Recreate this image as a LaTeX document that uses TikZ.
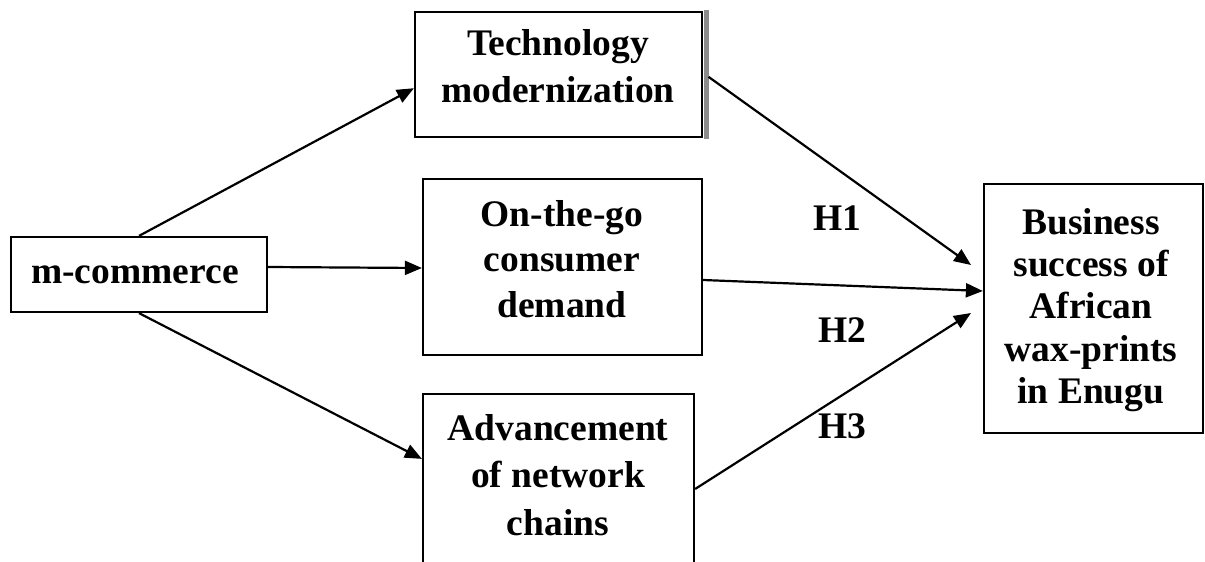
\documentclass[tikz,border=0pt]{standalone}
\usepackage{fontspec}
\setmainfont{Liberation Serif}
\usetikzlibrary{arrows.meta,calc}
\definecolor{shadowgray}{RGB}{140,140,140}
\tikzset{
  boxnode/.style={draw=black, line width=2.2pt, rectangle, inner sep=0pt},
  txt/.style={font=\bfseries\fontsize{37.5}{46.5}\selectfont, align=center, inner sep=0pt, anchor=north},
  conn/.style={line width=2.2pt, -{Triangle[length=17pt,width=14pt]}},
  hlabel/.style={font=\bfseries\fontsize{37.5}{44}\selectfont, inner sep=0pt}
}
\begin{document}
\begin{tikzpicture}[x=1pt,y=-1pt]
\useasboundingbox (0,0) rectangle (1205,562);
\clip (0,0) rectangle (1205,562);
\fill[white] (0,0) rectangle (1205,562);
% boxes
\node[boxnode, minimum width=256pt, minimum height=75pt] (mc) at (139,274.5) {};
\node[boxnode, minimum width=287pt, minimum height=125pt] (tech) at (558.5,74.5) {};
\node[boxnode, minimum width=279pt, minimum height=176pt] (otg) at (562.5,267) {};
\node[boxnode, minimum width=271pt, minimum height=220pt] (adv) at (558.5,504) {};
\node[boxnode, minimum width=219pt, minimum height=249pt] (bus) at (1093.5,308.5) {};
\fill[shadowgray] ($(tech.north east)+(1.1,-1.1)$) rectangle ($(tech.south east)+(5.5,1.1)$);
% texts
\node[txt] (tmc) at (135,253) {\rule{0pt}{30pt}m-commerce};
\node[txt] (ttech) at (558,25.5) {\rule{0pt}{30pt}Technology\\modernization};
\node[txt, font=\bfseries\fontsize{37.5}{45.5}\selectfont] (totg) at (562,196) {\rule{0pt}{30pt}On-the-go\\consumer\\demand};
\node[txt, font=\bfseries\fontsize{37.5}{47.5}\selectfont] (tadv) at (558,410) {\rule{0pt}{30pt}Advancement\\of network\\chains};
\node[txt, font=\bfseries\fontsize{37.5}{42.3}\selectfont] (tbus) at (1091,204) {\rule{0pt}{30pt}Business\\success of\\African\\wax-prints\\in Enugu};
% hypothesis labels
\node[hlabel] (h1) at (837,218) {H1};
\node[hlabel] (h2) at (842,330) {H2};
\node[hlabel] (h3) at (842,426) {H3};
% connector ends
\coordinate (e1) at (971,265);
\coordinate (e3) at (971,313);
% connectors
\draw[conn] (mc.north) -- ($(tech.south west)!0.392!(tech.north west)$);
\draw[conn] (mc.east |- 0,267) -- (otg.west |- 0,268);
\draw[conn] (mc.south) -- ($(adv.north west)+(0,66)$);
\draw[conn] ($(tech.north east)+(5.5,66)$) -- (e1);
\draw[conn] (otg.east |- 0,280) -- (bus.west |- 0,291);
\draw[conn] (adv.east |- 0,489) -- (e3);
\end{tikzpicture}
\end{document}
